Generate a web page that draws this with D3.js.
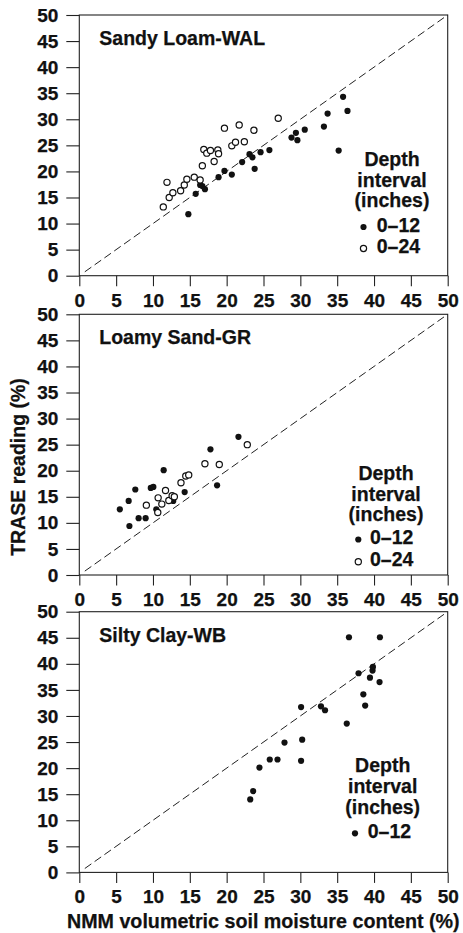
<!DOCTYPE html>
<html>
<head>
<meta charset="utf-8">
<script src="https://cdn.jsdelivr.net/npm/d3@7"></script>
<style>
  html, body { margin: 0; padding: 0; background: #fff; }
  svg { display: block; }
  text { font-family: "Liberation Sans", Arial, Helvetica, sans-serif; font-weight: bold; fill: #111; stroke: #111; stroke-width: 0.25px; }
</style>
</head>
<body>
<svg id="chart" width="463" height="933"></svg>
<script>
// ---------------- DATA ----------------
const panelTitles = ["Sandy Loam-WAL", "Loamy Sand-GR", "Silty Clay-WB"];
const tickValues = [0, 5, 10, 15, 20, 25, 30, 35, 40, 45, 50];
const legendTitle = ["Depth", "interval", "(inches)"];
const seriesNames = ["0\u201312", "0\u201324"];

// [NMM %, TRASE %]
const sandyLoam12 = [
  [14.8, 11.8], [15.8, 15.7], [16.4, 17.4], [16.7, 17.2], [17.05, 16.6],
  [18.9, 18.9], [19.7, 20.1], [20.7, 19.4], [22.1, 21.8], [23.1, 23.3],
  [23.5, 22.7], [23.8, 20.5], [24.6, 23.7], [25.8, 24.1], [28.8, 26.5],
  [29.4, 27.4], [29.6, 26.0], [30.6, 28.0], [33.2, 28.6], [33.7, 31.1],
  [35.2, 24.0], [35.8, 34.3], [36.4, 31.6]
];
const sandyLoam24 = [
  [11.4, 13.2], [11.9, 17.9], [12.2, 15.0], [12.7, 15.9], [13.75, 16.3],
  [14.25, 17.4], [14.6, 18.5], [15.6, 18.9], [16.4, 18.35], [16.7, 21.1],
  [16.9, 24.2], [17.3, 23.5], [17.8, 24.0], [18.3, 21.9], [18.8, 24.1],
  [18.9, 23.4], [19.7, 28.3], [20.7, 24.9], [21.2, 25.6], [21.7, 28.9],
  [22.4, 25.7], [23.7, 27.9], [27.0, 30.2]
];
const loamySand12 = [
  [5.5, 12.6], [6.7, 14.2], [6.8, 9.4], [7.6, 16.4], [8.05, 10.9],
  [9.0, 10.9], [9.7, 16.7], [10.05, 16.9], [10.45, 12.6], [11.45, 20.1],
  [12.75, 14.2], [14.3, 15.9], [17.8, 24.1], [18.7, 17.2], [21.6, 26.5]
];
const loamySand24 = [
  [9.1, 13.4], [10.7, 14.8], [10.65, 12.0], [11.2, 13.6], [11.7, 16.2],
  [12.15, 14.3], [12.6, 15.2], [12.9, 15.0], [13.8, 17.7], [14.45, 19.0],
  [14.85, 19.2], [17.05, 21.35], [19.0, 21.2], [22.8, 25.0]
];
const siltyClay12 = [
  [23.2, 14.0], [23.6, 15.6], [24.45, 20.1], [25.85, 21.65], [26.9, 21.65],
  [27.85, 24.9], [30.1, 31.7], [30.25, 25.45], [30.1, 21.4], [32.8, 31.85],
  [33.35, 31.1], [36.3, 28.55], [36.6, 45.1], [37.9, 38.2], [38.55, 34.15],
  [38.8, 32.0], [39.45, 37.35], [39.8, 38.7], [39.85, 39.4], [40.8, 45.1],
  [40.75, 36.5]
];
const oneToOne = [[0.75, 0.75], [50, 50]];

// ---------------- LAYOUT ----------------
const svg = d3.select("#chart");
const left = 79.3, right = 447.7, plotH = 260.7;
const panelTops = [15, 314.3, 611.7];
const FS = 19.5;
const legendLayout = [
  { cx: 392, y0: 166, dotX: 363.5, txtX: 376.7, rows: [227, 248.5] },
  { cx: 386, y0: 480, dotX: 358.3, txtX: 370, rows: [539.5, 561.7] },
  { cx: 382.7, y0: 772.3, dotX: 355, txtX: 367.7, rows: [833.3] }
];
const panels = [
  { title: panelTitles[0], series: [sandyLoam12, sandyLoam24] },
  { title: panelTitles[1], series: [loamySand12, loamySand24] },
  { title: panelTitles[2], series: [siltyClay12] }
];

const x = d3.scaleLinear().domain([0, 50]).range([left, right]);

panels.forEach((p, i) => {
  const top = panelTops[i];
  const y = d3.scaleLinear().domain([0, 50]).range([top + plotH, top]);
  const g = svg.append("g");

  // frame
  g.append("rect")
    .attr("x", left).attr("y", top)
    .attr("width", right - left).attr("height", plotH)
    .attr("fill", "none").attr("stroke", "#222").attr("stroke-width", 1.1);

  // y axis
  const ya = g.append("g").attr("transform", `translate(${left},0)`)
    .call(d3.axisLeft(y).tickValues(tickValues).tickSize(13).tickPadding(8).tickFormat(d3.format("d")));
  ya.select(".domain").remove();
  ya.selectAll(".tick line").attr("stroke", "#222").attr("stroke-width", 1.1);
  ya.selectAll(".tick text").style("font-size", "19px").attr("fill", "#111");

  // x axis
  const xa = g.append("g").attr("transform", `translate(0,${top + plotH})`)
    .call(d3.axisBottom(x).tickValues(tickValues).tickSize(10.5).tickPadding(7).tickFormat(d3.format("d")));
  xa.select(".domain").remove();
  xa.selectAll(".tick line").attr("stroke", "#222").attr("stroke-width", 1.1);
  xa.selectAll(".tick text").style("font-size", "19px").attr("fill", "#111");

  // 1:1 line
  g.append("path")
    .datum(oneToOne)
    .attr("d", d3.line().x(d => x(d[0])).y(d => y(d[1])))
    .attr("fill", "none").attr("stroke", "#222").attr("stroke-width", 1)
    .attr("stroke-dasharray", "8,4");

  // title
  g.append("text").attr("x", 99.3).attr("y", top + 30)
    .style("font-size", FS + "px").text(p.title);

  // points
  p.series.forEach((s, k) => {
    g.selectAll(null).data(s).enter().append("circle")
      .attr("cx", d => x(d[0])).attr("cy", d => y(d[1]))
      .attr("r", 3.1)
      .attr("fill", k === 0 ? "#111" : "#fff")
      .attr("stroke", "#111").attr("stroke-width", k === 0 ? 0 : 1.2);
  });

  // legend
  const L = legendLayout[i];
  legendTitle.forEach((t, j) => {
    g.append("text").attr("x", L.cx).attr("y", L.y0 + j * 20.7)
      .attr("text-anchor", "middle").style("font-size", FS + "px").text(t);
  });
  p.series.forEach((s, k) => {
    g.append("circle").attr("cx", L.dotX).attr("cy", L.rows[k])
      .attr("r", 3.1).attr("fill", k === 0 ? "#111" : "#fff")
      .attr("stroke", "#111").attr("stroke-width", k === 0 ? 0 : 1.2);
    g.append("text").attr("x", L.txtX).attr("y", L.rows[k] + 4.7)
      .style("font-size", FS + "px").text(seriesNames[k]);
  });
});

// axis labels
svg.append("text")
  .attr("transform", `translate(25,467) rotate(-90)`)
  .attr("text-anchor", "middle").style("font-size", FS + "px")
  .text("TRASE reading (%)");
svg.append("text")
  .attr("x", 263.3).attr("y", 928)
  .attr("text-anchor", "middle").style("font-size", "19.7px")
  .text("NMM volumetric soil moisture content (%)");
</script>
</body>
</html>
